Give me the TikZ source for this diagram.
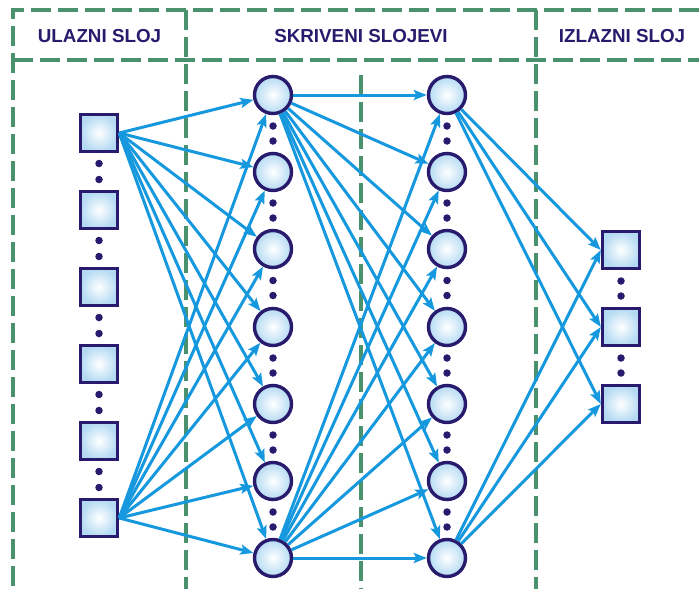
\documentclass[tikz,border=0pt]{standalone}
\usepackage{fontspec}
\setmainfont{Liberation Sans}
\usetikzlibrary{arrows.meta}

\definecolor{framegreen}{RGB}{74,146,110}
\definecolor{navy}{RGB}{40,26,108}
\definecolor{wireblue}{RGB}{22,152,222}
\definecolor{cellblue}{RGB}{180,218,243}

\tikzset{
  frameline/.style={draw=framegreen, line width=3.2pt, dash pattern=on 20pt off 7pt},
  headtext/.style={text=navy, font=\fontsize{18.8}{22}\selectfont\bfseries},
  cellbase/.style={draw=navy, line width=3.4pt, inner sep=0pt,
    shading=radial, inner color=white, outer color=cellblue},
  inbox/.style={cellbase, rectangle, minimum size=37pt},
  neuron/.style={cellbase, circle, minimum size=37pt},
  gap/.style={circle, fill=navy, inner sep=0pt, minimum size=7.5pt},
  wire/.style={draw=wireblue, line width=3pt,
    -{Stealth[length=13pt,width=10pt,inset=2.5pt]}}
}

\begin{document}
\begin{tikzpicture}[x=1pt,y=-1pt]
\useasboundingbox (0,0) rectangle (699,589);

% frame: header band and column separators
\coordinate (tl) at (13,10);
\coordinate (tr) at (699,10);
\coordinate (hl) at (13,60);
\coordinate (hr) at (699,60);
\coordinate (bl) at (13,589);
\coordinate (c1t) at (186,10);
\coordinate (c1b) at (186,589);
\coordinate (c2t) at (536,10);
\coordinate (c2b) at (536,589);
\coordinate (mt) at (361,75);
\coordinate (mb) at (361,589);
\draw[frameline] (tr) -- (tl) -- (bl);
\draw[frameline] (hl) -- (hr);
\draw[frameline] (c1t) -- (c1b);
\draw[frameline] (c2t) -- (c2b);
\draw[frameline] (mt) -- (mb);

% column titles
\node[headtext] (t1) at (99.5,36) {ULAZNI SLOJ};
\node[headtext] (t2) at (361,36) {SKRIVENI SLOJEVI};
\node[headtext] (t3) at (622,36) {IZLAZNI SLOJ};

% input layer
\foreach \i/\y in {1/133,2/210,3/287,4/364,5/441,6/518}
  \node[inbox] (in\i) at (99,\y) {};
\foreach \y [count=\k] in {171.5,248.5,325.5,402.5,479.5}
  {\node[gap] (ia\k) at (99,\y-8) {}; \node[gap] (ib\k) at (99,\y+8) {};}

% hidden layers
\foreach \i/\y in {1/95,2/172,3/249,4/327,5/404,6/481,7/558} {
  \node[neuron] (ha\i) at (273,\y) {};
  \node[neuron] (hb\i) at (447,\y) {};
}
\foreach \y [count=\k] in {133.5,210.5,288,365.5,442.5,519.5} {
  \node[gap] (da\k) at (273,\y-7.5) {}; \node[gap] (db\k) at (273,\y+7.5) {};
  \node[gap] (dc\k) at (447,\y-7.5) {}; \node[gap] (dd\k) at (447,\y+7.5) {};
}

% output layer
\foreach \i/\y in {1/250,2/327,3/404}
  \node[inbox] (out\i) at (621,\y) {};
\foreach \y [count=\k] in {288.5,365.5}
  {\node[gap] (oa\k) at (621,\y-7.5) {}; \node[gap] (ob\k) at (621,\y+7.5) {};}

% connections
\foreach \i in {1,...,7} {
  \draw[wire] (in1.east) -- (ha\i);
  \draw[wire] (in6.east) -- (ha\i);
  \draw[wire] (ha1) -- (hb\i);
  \draw[wire] (ha7) -- (hb\i);
}
\foreach \j in {1,2,3} {
  \draw[wire] (hb1) -- (out\j.west);
  \draw[wire] (hb7) -- (out\j.west);
}
\end{tikzpicture}
\end{document}
